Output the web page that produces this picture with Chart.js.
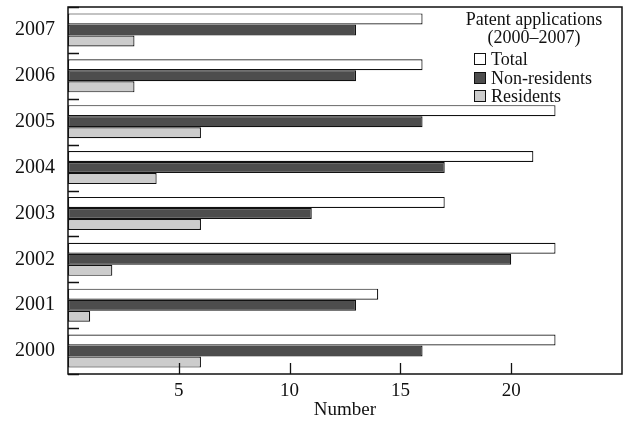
<!DOCTYPE html>
<html>
<head>
<meta charset="utf-8">
<script src="https://cdn.jsdelivr.net/npm/chart.js@4/dist/chart.umd.min.js"></script>
<style>
html,body{margin:0;padding:0;background:#fff;}
#wrap{width:625px;height:421px;}
</style>
</head>
<body>
<div id="wrap"><canvas id="c" width="625" height="421"></canvas></div>
<script>
const years = ['2007','2006','2005','2004','2003','2002','2001','2000'];
const totalApps = [16, 16, 22, 21, 17, 22, 14, 22];
const nonResidents = [13, 13, 16, 17, 11, 20, 13, 16];
const residents = [3, 3, 6, 4, 6, 2, 1, 6];
const xTickValues = [5, 10, 15, 20];
const legendTitle = ['Patent applications', '(2000\u20132007)'];
const xTitle = 'Number';

const FONT = '"Liberation Serif", "Times New Roman", serif';

const framePlugin = {
  id: 'frameTicks',
  afterDatasetsDraw(chart) {
    const {ctx, chartArea: a, scales: {x, y}} = chart;
    ctx.save();
    ctx.strokeStyle = '#111';
    ctx.lineWidth = 1.5;
    ctx.strokeRect(a.left, a.top, a.right - a.left, a.bottom - a.top);
    ctx.lineWidth = 1.3;
    ctx.beginPath();
    xTickValues.forEach(v => {
      const px = Math.round(x.getPixelForValue(v)) + 0.5;
      ctx.moveTo(px, a.bottom);
      ctx.lineTo(px, a.bottom - 11);
    });
    for (let i = 0; i <= years.length; i++) {
      const py = Math.round(y.getPixelForValue(i - 0.5)) + 0.5;
      ctx.moveTo(a.left, py);
      ctx.lineTo(a.left + 11, py);
    }
    ctx.stroke();

    // legend
    const cx = 534;
    ctx.fillStyle = '#111';
    ctx.font = '18px ' + FONT;
    ctx.textAlign = 'center';
    ctx.textBaseline = 'middle';
    ctx.fillText(legendTitle[0], cx, 20);
    ctx.fillText(legendTitle[1], cx, 38);
    ctx.textAlign = 'left';
    const ys = [59, 78, 96];
    chart.data.datasets.forEach((ds, i) => {
      const by = ys[i];
      ctx.fillStyle = ds.backgroundColor;
      ctx.fillRect(474.5, by - 5.5, 11, 11);
      ctx.lineWidth = 1;
      ctx.strokeStyle = '#111';
      ctx.strokeRect(474.5, by - 5.5, 11, 11);
      ctx.fillStyle = '#111';
      ctx.fillText(ds.label, 491, by + 1);
    });
    ctx.restore();
  }
};

new Chart(document.getElementById('c'), {
  type: 'bar',
  data: {
    labels: years,
    datasets: [
      {label: 'Total', data: totalApps, backgroundColor: '#ffffff', borderColor: '#111', borderWidth: 1.2, borderSkipped: false},
      {label: 'Non-residents', data: nonResidents, backgroundColor: '#4d4d4d', borderColor: '#111', borderWidth: 1.2, borderSkipped: false},
      {label: 'Residents', data: residents, backgroundColor: '#cccccc', borderColor: '#111', borderWidth: 1.2, borderSkipped: false}
    ]
  },
  options: {
    indexAxis: 'y',
    responsive: false,
    animation: false,
    layout: {padding: {left: 0, top: 7, right: 3, bottom: 0}},
    datasets: {bar: {categoryPercentage: 0.72, barPercentage: 1.0}},
    plugins: {legend: {display: false}, tooltip: {enabled: false}},
    scales: {
      x: {
        min: 0, max: 25,
        grid: {display: false, drawTicks: false},
        border: {display: false},
        ticks: {
          stepSize: 5,
          padding: 6,
          color: '#111',
          font: {family: FONT, size: 19},
          callback: (v) => xTickValues.includes(v) ? String(v) : ''
        },
        title: {display: true, text: xTitle, color: '#111', font: {family: FONT, size: 19}, padding: {top: 0, bottom: 0}},
        afterFit(s) { s.height = 47; s.paddingLeft = 0; s.paddingRight = 0; }
      },
      y: {
        grid: {display: false, drawTicks: false},
        border: {display: false},
        ticks: {padding: 13, color: '#111', font: {family: FONT, size: 20}},
        afterFit(s) { s.width = 68; s.paddingTop = 0; s.paddingBottom = 0; }
      }
    }
  },
  plugins: [framePlugin]
});
</script>
</body>
</html>
